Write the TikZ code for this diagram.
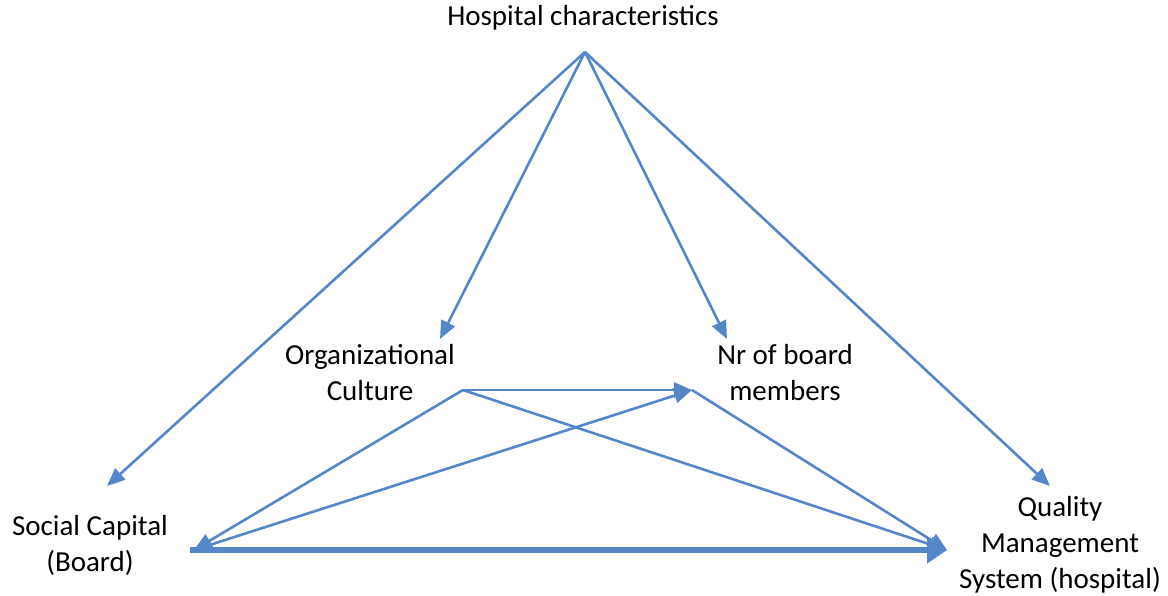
\documentclass[tikz,border=0pt]{standalone}
\usepackage{fontspec}
\setmainfont{Carlito}
\usetikzlibrary{arrows.meta}
\definecolor{lineblue}{RGB}{84,134,200}
\begin{document}
\begin{tikzpicture}[x=1pt,y=-1pt,
  lbl/.style={align=center,font=\fontsize{29}{36}\selectfont,inner sep=0pt},
  conn/.style={draw=lineblue,line width=2.6pt,-{Triangle[length=18pt,width=15pt]},fill=lineblue},
  thick conn/.style={draw=lineblue,line width=6pt,-{Triangle[length=20pt,width=26pt]}}]
\useasboundingbox (0,0) rectangle (1168,595);
% labels
\node[lbl] (hosp) at (583,18) {Hospital characteristics};
\node[lbl] (org) at (370,373) {Organizational\\Culture};
\node[lbl] (nr) at (785,373) {Nr of board\\members};
\node[lbl] (soc) at (90,545) {Social Capital\\(Board)};
\node[lbl] (qms) at (1060,545) {Quality\\Management\\System (hospital)};
% anchor points of connectors
\coordinate (hA) at (585,52);
\coordinate (socIn) at (107,486);
\coordinate (orgIn) at (440,339);
\coordinate (nrIn) at (727,339);
\coordinate (qmsIn) at (1050,486);
\coordinate (orgOut) at (463,390);
\coordinate (nrPt) at (692,390);
\coordinate (socPt) at (194,550);
\coordinate (qmsPt) at (947,550);
% connectors
\draw[conn] (hA) -- (socIn);
\draw[conn] (hA) -- (orgIn);
\draw[conn] (hA) -- (nrIn);
\draw[conn] (hA) -- (qmsIn);
\draw[conn] (orgOut) -- (nrPt);
\draw[conn] (orgOut) -- (socPt);
\draw[conn] (socPt) -- (nrPt);
\draw[conn] (orgOut) -- (qmsPt);
\draw[conn] (nrPt) -- (qmsPt);
\draw[thick conn] (190,550) -- (qmsPt);
\end{tikzpicture}
\end{document}
